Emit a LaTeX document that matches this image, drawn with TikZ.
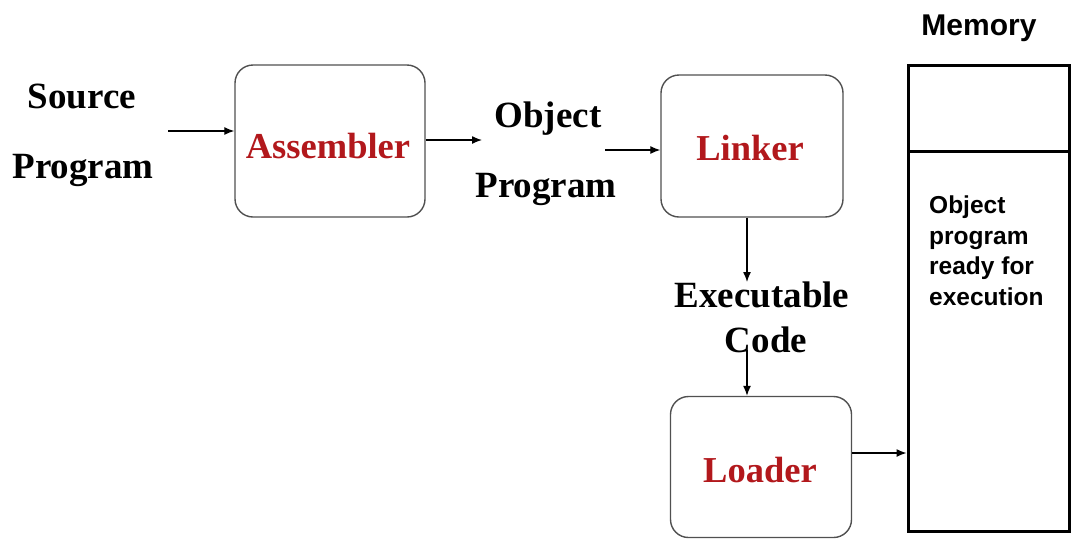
\documentclass[tikz,border=0pt]{standalone}
\usepackage{fontspec}
\setmainfont{Liberation Serif}
\newfontfamily\memsans{Liberation Sans}
\usetikzlibrary{arrows.meta}
\definecolor{boxred}{RGB}{178,24,28}
\definecolor{boxgray}{RGB}{80,80,80}
\begin{document}
\begin{tikzpicture}[x=1pt,y=-1pt,
  procbox/.style={draw=boxgray,line width=1.4pt,rounded corners=18pt,inner sep=0pt},
  membox/.style={draw=black,line width=3pt,inner sep=0pt},
  serlbl/.style={font=\fontsize{37}{44}\selectfont\bfseries,inner sep=0pt,anchor=base},
  redlbl/.style={font=\fontsize{36.5}{44}\selectfont\bfseries,text=boxred,inner sep=0pt,anchor=base},
  arr/.style={line width=1.3pt,-{Latex[length=10pt,width=8pt]}}]
\useasboundingbox (0,0) rectangle (1075,539);
% boxes
\node[procbox,minimum width=190pt,minimum height=152pt] (asm) at (330,141) {};
\node[procbox,minimum width=182pt,minimum height=142pt] (lnk) at (752,146) {};
\node[procbox,minimum width=181pt,minimum height=141pt] (ldr) at (761,467) {};
\node[membox,minimum width=161pt,minimum height=466pt] (mem) at (988.5,298) {};
\coordinate (divL) at (908,151);
\coordinate (divR) at (1069,151);
\draw[line width=3pt] (divL) -- (divR);
% labels
\node[serlbl] (src1) at (82,108) {Source};
\node[serlbl] (src2) at (83,178) {Program};
\node[redlbl] (asmt) at (328,158) {Assembler};
\node[serlbl] (obj1) at (548,127) {Object};
\node[serlbl] (obj2) at (546,197) {Program};
\node[redlbl] (lnkt) at (750,160) {Linker};
\node[serlbl] (exe1) at (762,307) {Executable};
\node[serlbl] (exe2) at (766,352) {Code};
\node[redlbl] (ldrt) at (760,482) {Loader};
\node[font=\memsans\fontsize{30}{36}\selectfont\bfseries,inner sep=0pt,anchor=base] (memt) at (979,35) {Memory};
\node[font=\memsans\fontsize{24.5}{30.5}\selectfont\bfseries,inner sep=0pt,anchor=north west,align=left] (memtxt) at (929,196) {Object\\program\\ready for\\execution};
% connectors
\coordinate (srcA) at (168,131);
\draw[arr] (srcA) -- (asm.west |- srcA);
\coordinate (objA) at (482,140);
\draw[arr] (asm.east |- objA) -- (objA);
\coordinate (objB) at (605,150);
\draw[arr] (objB) -- (lnk.west |- objB);
\coordinate (exeA) at (747,282);
\draw[arr] (lnk.south -| exeA) -- (exeA);
\coordinate (exeB) at (747,350);
\draw[arr] (exeB) -- (ldr.north -| exeB);
\coordinate (ldrA) at (852,453);
\draw[arr] (ldr.east |- ldrA) -- (mem.west |- ldrA);
\end{tikzpicture}
\end{document}
